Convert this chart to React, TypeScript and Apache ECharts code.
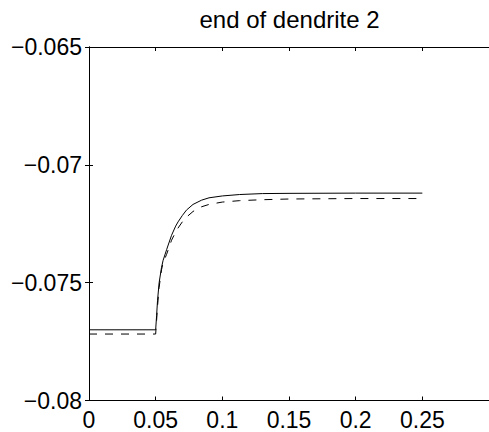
import React, { useEffect, useRef } from "react";
import * as echarts from "echarts";

const titleText = "end of dendrite 2";
const xTickLabels = ["0", "0.05", "0.1", "0.15", "0.2", "0.25", ""];
const yTickLabels: Record<string, string> = {
  "-0.08": "\u22120.08",
  "-0.075": "\u22120.075",
  "-0.07": "\u22120.07",
  "-0.065": "\u22120.065",
};

const solidX = [0, 0.05, 0.0507, 0.0514, 0.0526, 0.0544, 0.0556, 0.0582, 0.0619, 0.065, 0.0668, 0.07, 0.0731, 0.078, 0.0844, 0.09, 0.1, 0.113, 0.13, 0.15, 0.2, 0.25];
const solidY = [-0.077, -0.077, -0.0764, -0.07575, -0.075, -0.07435, -0.07405, -0.0736, -0.07299, -0.0726, -0.07242, -0.07215, -0.07192, -0.07168, -0.0715, -0.0714, -0.07132, -0.07126, -0.07122, -0.07121, -0.0712, -0.0712];

const dashedX = [0, 0.05, 0.0507, 0.0514, 0.0526, 0.0544, 0.0556, 0.0582, 0.0619, 0.065, 0.0668, 0.07, 0.0731, 0.078, 0.0844, 0.09, 0.1, 0.113, 0.13, 0.15, 0.2, 0.25];
const dashedY = [-0.07718, -0.07718, -0.0766, -0.076, -0.0752, -0.07445, -0.07415, -0.0738, -0.0732, -0.07285, -0.07268, -0.07242, -0.07222, -0.07198, -0.07178, -0.07168, -0.07158, -0.07152, -0.07148, -0.07145, -0.07143, -0.07143];

const FONT = "'Liberation Sans', Arial, Helvetica, sans-serif";

export default function App() {
  const ref = useRef<HTMLDivElement>(null);
  useEffect(() => {
    if (!ref.current) return;
    const chart = echarts.init(ref.current, undefined, { renderer: "svg" });
    const axisLine = { show: true, lineStyle: { color: "#000", width: 1 } };
    const xLabelFmt = (v: number) => {
      const i = Math.round(v / 0.05);
      return xTickLabels[i] ?? "";
    };
    const yLabelFmt = (v: number) => {
      const k = String(Math.round(v * 1000) / 1000);
      return yTickLabels[k] ?? "";
    };
    chart.setOption({
      animation: false,
      backgroundColor: "#fff",
      title: {
        text: titleText,
        left: 289.5,
        textAlign: "center",
        top: 7,
        padding: 0,
        textStyle: { fontFamily: FONT, fontSize: 24, fontWeight: "normal", color: "#000" },
      },
      grid: { left: 89, right: -1, top: 47, bottom: 31.5, show: false },
      xAxis: [
        {
          type: "value",
          min: 0,
          max: 0.3,
          interval: 0.05,
          position: "bottom",
          axisLine,
          axisTick: { show: true, inside: true, length: 4, lineStyle: { color: "#000" } },
          axisLabel: { formatter: xLabelFmt, fontFamily: FONT, fontSize: 23, color: "#000", margin: 8, showMaxLabel: false },
          splitLine: { show: false },
        },
        {
          type: "value",
          min: 0,
          max: 0.3,
          interval: 0.05,
          position: "top",
          axisLine,
          axisTick: { show: true, inside: true, length: 4, lineStyle: { color: "#000" } },
          axisLabel: { show: false },
          splitLine: { show: false },
        },
      ],
      yAxis: [
        {
          type: "value",
          min: -0.08,
          max: -0.065,
          interval: 0.005,
          position: "left",
          axisLine,
          axisTick: { show: true, inside: true, length: 4, lineStyle: { color: "#000" } },
          axisLabel: { formatter: yLabelFmt, fontFamily: FONT, fontSize: 23, color: "#000", margin: 7 },
          splitLine: { show: false },
        },
        {
          type: "value",
          min: -0.08,
          max: -0.065,
          interval: 0.005,
          position: "right",
          axisLine,
          axisTick: { show: true, inside: true, length: 4, lineStyle: { color: "#000" } },
          axisLabel: { show: false },
          splitLine: { show: false },
        },
      ],
      series: [
        {
          type: "line",
          data: solidX.map((x, i) => [x, solidY[i]]),
          showSymbol: false,
          lineStyle: { color: "#000", width: 1 },
          smooth: false,
        },
        {
          type: "line",
          data: dashedX.map((x, i) => [x, dashedY[i]]),
          showSymbol: false,
          lineStyle: { color: "#000", width: 1, type: [8, 8] },
          smooth: false,
        },
      ],
    });
    return () => chart.dispose();
  }, []);
  return (
    <div
      ref={ref}
      style={{ position: "fixed", left: 0, top: 0, width: 489, height: 432, background: "#fff" }}
    />
  );
}
